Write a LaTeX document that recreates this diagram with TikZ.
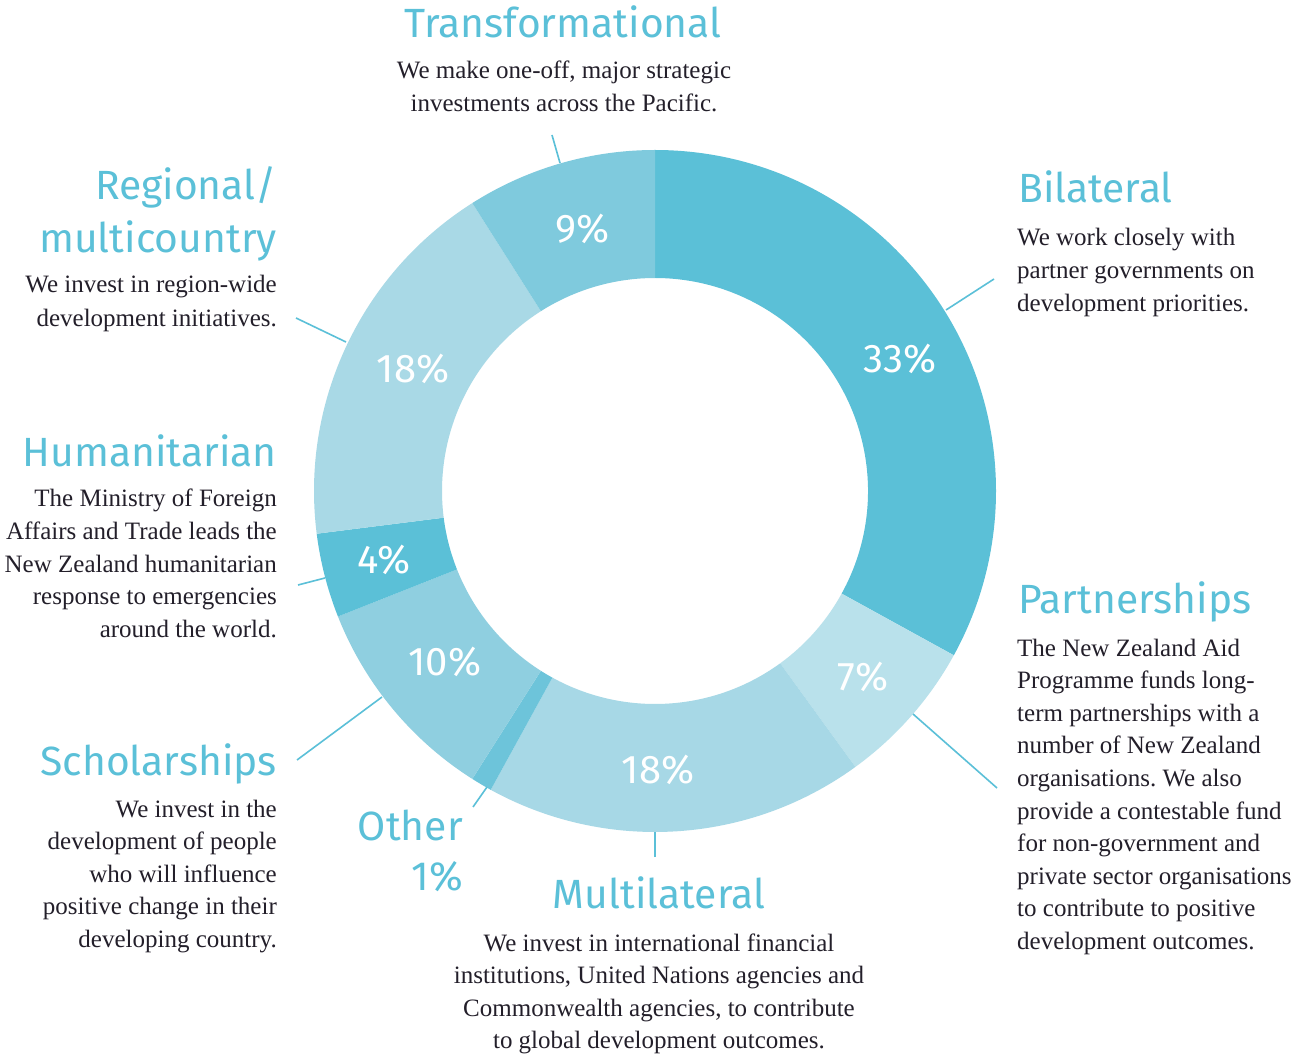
\documentclass[tikz,border=0pt]{standalone}
\usepackage{fontspec}
\setmainfont{Liberation Serif}
\newfontfamily\titlefont{Fira Sans}
\frenchspacing
\definecolor{cTitle}{HTML}{5BC0D8}
\definecolor{cBody}{HTML}{231F2A}
\definecolor{cBil}{HTML}{5BC0D7}
\definecolor{cPart}{HTML}{B9E1EB}
\definecolor{cMulti}{HTML}{A7D8E6}
\definecolor{cOther}{HTML}{6DC4DA}
\definecolor{cSchol}{HTML}{8FCFE0}
\definecolor{cHum}{HTML}{5BC0D7}
\definecolor{cReg}{HTML}{A9D9E6}
\definecolor{cTrans}{HTML}{7FCADD}
\newcommand\myR[1]{\vtop{\halign{\hfil##\cr#1\crcr}}}
\newcommand\myC[1]{\vtop{\halign{\hfil##\hfil\cr#1\crcr}}}
\newcommand\myL[1]{\vtop{\halign{##\hfil\cr#1\crcr}}}
\newcommand\donutseg[3]{\fill[#1] (#2:341) arc[start angle=#2,end angle=#3,radius=341] -- (#3:213) arc[start angle=#3,end angle=#2,radius=213] -- cycle;}
\begin{document}
\begin{tikzpicture}[x=1pt,y=1pt,
  title/.style={font=\titlefont\fontsize{40.8}{53}\selectfont, text=cTitle, inner sep=0pt},
  pct/.style={font=\titlefont\fontsize{40}{40}\selectfont, text=white, inner sep=0pt, anchor=base},
  body/.style={font=\fontsize{25}{32.6}\selectfont\frenchspacing, text=cBody, inner sep=0pt},
  leader/.style={draw=cTitle, line width=1.6pt}]
\useasboundingbox (0,0) rectangle (1291,-1056);
\fill[white] (0,0) rectangle (1291,-1056);
% donut
\begin{scope}[shift={(655,-491)}]
\donutseg{cBil}{90}{-28.8}
\donutseg{cPart}{-28.8}{-54}
\donutseg{cMulti}{-54}{-118.8}
\donutseg{cOther}{-118.8}{-122.4}
\donutseg{cSchol}{-122.4}{-158.4}
\donutseg{cHum}{-158.4}{-172.8}
\donutseg{cReg}{-172.8}{-237.6}
\donutseg{cTrans}{-237.6}{-270}
\end{scope}
% percentages
\node[pct] (p9)  at (583,-243) {9\%};
\node[pct] (p33) at (900,-373) {33\%};
\node[pct] (p7)  at (863,-690) {7\%};
\node[pct] (p18b) at (658,-783) {18\%};
\node[pct] (p10) at (445,-675) {10\%};
\node[pct] (p4)  at (384,-573) {4\%};
\node[pct] (p18l) at (413,-383) {18\%};
% titles
\node[title, anchor=base] (tTrans) at (563,-38) {Transformational};
\node[title, anchor=base west] (tBil) at (1018,-203) {Bilateral};
\node[title, anchor=base east] (tReg) at (277,-200) {\myR{Regional/\cr multicountry}};
\node[title, anchor=base east] (tHum) at (277,-467) {Humanitarian};
\node[title, anchor=base west] (tPart) at (1018,-613) {Partnerships};
\node[title, anchor=base east] (tSchol) at (277,-775) {Scholarships};
\node[title, anchor=base east, font=\titlefont\fontsize{40.8}{50}\selectfont] (tOther) at (463,-840) {\myR{Other\cr 1\%}};
\node[title, anchor=base] (tMulti) at (659,-908) {Multilateral};
% bodies
\node[body, anchor=base] (bTrans) at (564,-79) {\myC{We make one-off, major strategic\cr investments across the Pacific.}};
\node[body, anchor=base west] (bBil) at (1017,-246) {\myL{We work closely with\cr partner governments on\cr development priorities.}};
\node[body, anchor=base east, font=\fontsize{25}{34}\selectfont] (bReg) at (277,-293) {\myR{We invest in region-wide\cr development initiatives.}};
\node[body, anchor=base east] (bHum) at (277,-507) {\myR{The Ministry of Foreign\cr Affairs and Trade leads the\cr New Zealand humanitarian\cr response to emergencies\cr around the world.}};
\node[body, anchor=base west] (bPart) at (1017,-656) {\myL{The New Zealand Aid\cr Programme funds long-\cr term partnerships with a\cr number of New Zealand\cr organisations. We also\cr provide a contestable fund\cr for non-government and\cr private sector organisations\cr to contribute to positive\cr development outcomes.}};
\node[body, anchor=base east] (bSchol) at (277,-817) {\myR{We invest in the\cr development of people\cr who will influence\cr positive change in their\cr developing country.}};
\node[body, anchor=base] (bMulti) at (659,-951) {\myC{We invest in international financial\cr institutions, United Nations agencies and\cr Commonwealth agencies, to contribute\cr to global development outcomes.}};
% leader lines
\coordinate (lTa) at (552,-135); \coordinate (lTb) at (560,-163);
\coordinate (lBa) at (994,-279); \coordinate (lBb) at (946,-310);
\coordinate (lPa) at (997,-788); \coordinate (lPb) at (913,-714);
\coordinate (lMa) at (655,-857); \coordinate (lMb) at (655,-832);
\coordinate (lOa) at (473,-807); \coordinate (lOb) at (487,-787);
\coordinate (lSa) at (297,-760); \coordinate (lSb) at (382,-697);
\coordinate (lHa) at (298,-585); \coordinate (lHb) at (325,-578);
\coordinate (lRa) at (296,-318); \coordinate (lRb) at (346,-342);
\draw[leader] (lTa) -- (lTb);
\draw[leader] (lBa) -- (lBb);
\draw[leader] (lPa) -- (lPb);
\draw[leader] (lMa) -- (lMb);
\draw[leader] (lOa) -- (lOb);
\draw[leader] (lSa) -- (lSb);
\draw[leader] (lHa) -- (lHb);
\draw[leader] (lRa) -- (lRb);
\end{tikzpicture}
\end{document}
